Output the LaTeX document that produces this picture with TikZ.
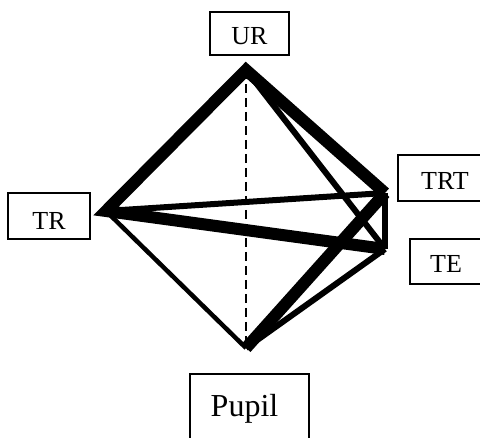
\documentclass[tikz,border=0pt]{standalone}
\usepackage{fontspec}
\setmainfont{Liberation Serif}
\begin{document}
\begin{tikzpicture}[x=1pt,y=-1pt,
  lbl/.style={draw,line width=1.4pt,inner sep=0pt,anchor=base,
    font=\fontsize{26}{30}\selectfont},
  heavy/.style={line width=12pt,miter limit=10},
  medium/.style={line width=6pt},
  light/.style={line width=4.5pt},
  axis/.style={line width=2.4pt,dash pattern=on 9pt off 5pt}]
\useasboundingbox (0,0) rectangle (480,438);
\begin{scope}
\clip (0,0) rectangle (480,438);
% corners of the figure
\coordinate (ur) at (246,70);
\coordinate (tr) at (106,211);
\coordinate (pu) at (246,348);
\coordinate (trt) at (385,193);
\coordinate (te) at (385,249);
% labels
\node[lbl,minimum width=79pt,text height=33pt,text depth=10pt] (URl) at (249.5,45) {UR};
\node[lbl,minimum width=82pt,text height=37pt,text depth=9pt] (TRl) at (49,230) {TR};
\node[lbl,minimum width=94pt,text height=35pt,text depth=11pt] (TRTl) at (445,190) {TRT};
\node[lbl,minimum width=72pt,text height=34pt,text depth=11pt] (TEl) at (446,273) {TE};
\node[lbl,minimum width=119pt,text height=43pt,text depth=45pt,
  font=\fontsize{32}{36}\selectfont] (PUl) at (249.5,417) {\kern-5pt Pupil\kern5pt};
% links between the corners
\draw[axis] (ur) -- (pu);
\draw[light] (tr) -- (pu);
\draw[medium] (ur) -- (te);
\draw[medium] (tr) -- (trt);
\draw[medium] (pu) -- (te);
\draw[medium] (trt) -- (te);
\draw[heavy] (pu) -- (trt);
\draw[heavy] (te) -- (tr) -- (ur) -- (trt);
\end{scope}
\end{tikzpicture}
\end{document}
